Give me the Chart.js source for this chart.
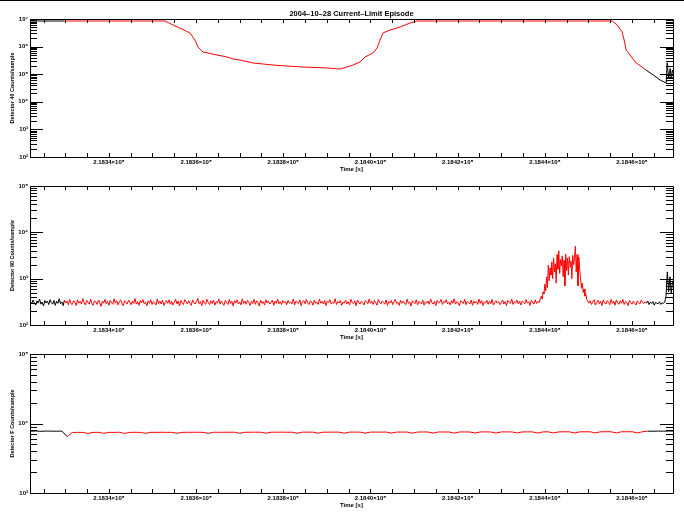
<!DOCTYPE html>
<html>
<head>
<meta charset="utf-8">
<script src="https://cdn.jsdelivr.net/npm/chart.js"></script>
<style>
  body { margin:0; background:#fff; }
  #page { position:relative; width:684px; height:518px; overflow:hidden; background:#fff; }
  #ligne { position:absolute; left:0; top:0; width:684px; height:1px; background:#000; }
  canvas { position:absolute; left:0; }
</style>
</head>
<body>
<div id="page">
  <div id="ligne"></div>
  <canvas id="det40" width="684" height="180" style="top:0px"></canvas>
  <canvas id="det80" width="684" height="168" style="top:180px"></canvas>
  <canvas id="detF" width="684" height="168" style="top:348px"></canvas>
</div>
<script>
// Axe du temps commun aux trois panneaux
const xMin = 218321900;
const xMax = 218469400;
// partie rouge de chaque courbe (le reste en noir)
const redFrom = 218329800;
const redTo = 218463200;
const titre = '2004–10–28 Current–Limit Episode';

// ---- Detector 40
const det40Time = [218321900, 218329800, 218352850, 218354690, 218356750, 218358590, 218359740, 218360430,
  218361570, 218362720, 218364790, 218367080, 218368460, 218370060, 218373050, 218377640, 218380850,
  218384520, 218390030, 218393010, 218394620, 218396000, 218397600, 218398750, 218400590, 218401510,
  218402200, 218402880, 218404490, 218406780, 218409080, 218410690, 218455440, 218456590, 218457730,
  218458190, 218458650, 218459570, 218460720, 218462550, 218463200, 218464850, 218466450, 218467830,
  218468060, 218468400, 218468750, 218469000, 218469250, 218469500];
const det40Counts = [8.46e6, 8.46e6, 8.46e6, 6.07e6, 4.34e6, 3.11e6, 1.73e6, 9.68e5,
  6.37e5, 5.86e5, 4.97e5, 4.20e5, 3.56e5, 3.27e5, 2.55e5, 2.15e5, 1.98e5,
  1.82e5, 1.68e5, 1.54e5, 1.82e5, 2.15e5, 2.77e5, 4.20e5, 5.86e5, 8.9e5,
  1.73e6, 3.11e6, 3.99e6, 5.13e6, 7.16e6, 8.46e6, 8.46e6, 6.07e6, 3.38e6,
  1.73e6, 7.54e5, 4.97e5, 2.77e5, 1.68e5, 1.42e5, 9.35e4, 6.17e4, 4.8e4,
  2.6e5, 7e4, 1.6e5, 8e4, 1.4e5, 1.0e5];

// ---- Detector 80 (avant le sursaut, sursaut, fin)
const det80Start = 218322000, det80Step = 300;
const det80Counts = [
  318,290,345,302,268,332,296,362,281,314,258,340,298,329,276,
  352,304,282,338,266,325,294,368,288,316,262,344,300,330,272,
  356,290,278,335,312,264,350,296,326,284,372,302,270,340,308,
  282,360,292,266,332,314,278,348,300,252,328,294,358,286,322,
  268,342,304,280,366,296,334,272,318,350,290,262,336,302,284,
  346,310,274,328,292,370,282,320,266,340,298,354,288,312,260,
  332,294,352,278,318,302,270,364,290,326,284,344,264,306,336,
  292,350,280,324,270,308,360,286,330,258,338,300,276,352,318,
  284,334,296,266,348,304,282,326,374,288,322,262,342,298,280,
  358,306,274,332,290,346,268,318,300,364,282,328,294,266,340,
  302,278,354,288,326,258,336,296,350,284,314,272,368,292,330,
  280,342,306,264,324,292,356,280,334,302,256,346,294,318,272,
  352,298,330,282,308,344,266,328,294,362,286,318,276,336,300,
  322,274,340,296,312,286,364,270,328,306,290,348,262,318,334,
  288,356,300,276,330,318,268,342,292,312,278,360,296,324,284,
  340,262,326,304,352,282,310,294,370,276,320,300,338,266,314,
  298,344,286,318,272,358,306,290,332,260,346,312,284,326,304,
  270,336,314,288,362,294,324,278,340,302,268,354,310,286,330,
  306,282,348,266,320,298,338,274,316,356,290,308,264,342,296,
  328,300,276,360,292,314,258,334,304,288,350,272,322,310,286,
  344,268,318,296,330,280,366,302,284,326,262,340,298,314,356,
  278,320,304,352,286,310,272,338,294,368,282,316,300,260,334,
  312,290,358,274,324,306,284,346,266,330,298,320,278,362,292,
  336,264,314,300,342,280,326,288,354,270,308,334,296,318,274,
  302,348,284,320,262,338,310,292,364,278,316,300,344,286,326,
  270,330,306,288,356,296,318,264,340,310,282,350,292,324,304];
const det80BurstStart = 218439000, det80BurstStep = 200;
const det80Burst = [380,420,360,520,470,760,540,1100,640,1950,900,1700,1200,2300,1000,
  2800,1400,2100,800,3300,1600,4000,1300,2600,1900,3100,1100,2500,700,3400,
  1500,2800,1200,3000,1800,2400,1000,3200,2000,2700,5000,1400,3300,700,2900,
  1500,1000,620,800,500,600,420,470,360,330];
const det80EndStart = 218450100, det80EndStep = 300;
const det80End = [296,334,278,322,352,270,306,340,288,326,262,348,302,282,336,
  312,274,358,292,330,268,344,300,280,334,294,356,278,320,304,
  262,340,306,284,326,292,270,332,302,284,344,312,290,316,298,
  330,276,312,290,320,268,308,296,286,316,278,300,294,310,420,
  1400,520,1100,480,900];

// ---- Detector F
const detFStart = 218322000, detFStep = 1200;
const detFCounts = [7750,7800,7720,7780,7760,7740,7790,6500,
  7420,7460,7440,7200,7450,7470,7210,7460,7450,7480,7190,7460,7470,7450,7220,
  7470,7460,7480,7450,7470,7230,7460,7480,7470,7490,7460,7200,7480,7470,7490,
  7480,7500,7220,7490,7480,7500,7490,7240,7500,7490,7510,7480,7500,7230,7510,
  7500,7520,7250,7510,7500,7520,7510,7240,7520,7510,7530,7260,7520,7530,7510,
  7540,7270,7530,7520,7540,7250,7530,7550,7540,7280,7550,7540,7560,7270,7550,
  7560,7550,7290,7560,7570,7550,7280,7570,7560,7580,7300,7570,7580,7570,7290,
  7580,7590,7310,7580,7590,7600,7300,7590,7600,7590,7320,7600,7610,7600,7310,
  7610,7600,7620,7330,7610,
  7760,7740,7780,7750,7790,7770];

const famille = '"Liberation Sans", "DejaVu Sans", sans-serif';
const police = { family: famille, size: 6, weight: 'bold' };
const policeTitreY = { family: famille, size: 5.5, weight: 'bold' };
const exposants = {'0':'⁰','1':'¹','2':'²','3':'³','4':'⁴','5':'⁵','6':'⁶','7':'⁷','8':'⁸','9':'⁹','-':'⁻'};
function puissance(n) { return String(n).split('').map(c => exposants[c]).join(''); }
function estDecade(v) { const l = Math.log10(v); return Math.abs(l - Math.round(l)) < 1e-9; }

function serie(start, step, values) {
  return values.map((v, i) => ({ x: start + i * step, y: v }));
}

// Cadre + graduations vers l'intérieur (style IDL)
const cadre = {
  id: 'cadre',
  afterDraw(chart) {
    const { ctx, chartArea: a, scales: { x, y } } = chart;
    ctx.save();
    ctx.strokeStyle = '#000';
    ctx.lineWidth = 1;
    ctx.beginPath();
    ctx.rect(a.left + 0.5, a.top + 0.5, a.right - a.left, a.bottom - a.top);
    for (const t of x.ticks) {
      const px = Math.round(x.getPixelForValue(t.value)) + 0.5;
      ctx.moveTo(px, a.bottom); ctx.lineTo(px, a.bottom - 4);
      ctx.moveTo(px, a.top); ctx.lineTo(px, a.top + 4);
    }
    for (const t of y.ticks) {
      const py = Math.round(y.getPixelForValue(t.value)) + 0.5;
      const len = estDecade(t.value) ? 13 : 7;
      ctx.moveTo(a.left, py); ctx.lineTo(a.left + len, py);
      ctx.moveTo(a.right, py); ctx.lineTo(a.right - len, py);
    }
    ctx.stroke();
    // titre général (seulement sur le premier panneau)
    if (chart.canvas.id === 'det40') {
      ctx.fillStyle = '#000';
      ctx.font = 'bold 7.5px ' + famille;
      ctx.textAlign = 'center';
      ctx.textBaseline = 'middle';
      ctx.fillText(titre, (a.left + a.right) / 2, 14);
    }
    ctx.restore();
  }
};

function dessinerPanneau(id, points, yMin, yMax, yTitre, padTop) {
  new Chart(document.getElementById(id), {
    type: 'line',
    data: {
      datasets: [{
        data: points,
        borderColor: '#000',
        borderWidth: 1,
        pointRadius: 0,
        tension: 0,
        segment: {
          borderColor: c => (c.p0.parsed.x >= redFrom && c.p0.parsed.x < redTo) ? '#ff0000' : '#000'
        }
      }]
    },
    options: {
      responsive: false,
      animation: false,
      devicePixelRatio: 1,
      layout: { padding: { top: padTop, right: 11, left: 0, bottom: 0 } },
      plugins: { legend: { display: false }, tooltip: { enabled: false } },
      scales: {
        x: {
          type: 'linear', min: xMin, max: xMax,
          grid: { display: false, drawTicks: false },
          border: { display: false },
          afterBuildTicks: s => {
            const ticks = [];
            for (let v = Math.ceil(xMin / 5000) * 5000; v <= xMax; v += 5000) ticks.push({ value: v });
            s.ticks = ticks;
          },
          afterFit: s => { s.height = 23; s.paddingLeft = 0; s.paddingRight = 0; },
          ticks: {
            autoSkip: false, maxRotation: 0, padding: 2, color: '#000', font: police,
            callback: v => (v % 20000 === 0) ? (v / 1e8).toFixed(4) + '×10⁸' : ''
          },
          title: { display: true, text: 'Time [s]', color: '#000', font: police, padding: { top: 0, bottom: 7 } }
        },
        y: {
          type: 'logarithmic', min: yMin, max: yMax,
          grid: { display: false, drawTicks: false },
          border: { display: false },
          afterBuildTicks: s => {
            const ticks = [];
            for (let e = Math.log10(yMin); e < Math.log10(yMax); e++) {
              for (let k = 1; k <= 9; k++) ticks.push({ value: k * Math.pow(10, e) });
            }
            ticks.push({ value: yMax });
            s.ticks = ticks;
          },
          afterFit: s => { s.width = 30; s.paddingTop = 0; s.paddingBottom = 0; },
          ticks: {
            autoSkip: false, padding: 2, color: '#000', font: police,
            callback: v => estDecade(v) ? '10' + puissance(Math.round(Math.log10(v))) : ''
          },
          title: { display: true, text: yTitre, color: '#000', font: policeTitreY, padding: { top: 9, bottom: 0 } }
        }
      }
    },
    plugins: [cadre]
  });
}

const pts40 = det40Time.map((t, i) => ({ x: t, y: det40Counts[i] }));
const pts80 = serie(det80Start, det80Step, det80Counts)
  .concat(serie(det80BurstStart, det80BurstStep, det80Burst))
  .concat(serie(det80EndStart, det80EndStep, det80End));
const ptsF = serie(detFStart, detFStep, detFCounts);

dessinerPanneau('det40', pts40, 1e2, 1e7, 'Detector 40 Counts/sample', 19);
dessinerPanneau('det80', pts80, 1e2, 1e5, 'Detector 80 Counts/sample', 6);
dessinerPanneau('detF', ptsF, 1e3, 1e5, 'Detector F Counts/sample', 6);
</script>
</body>
</html>
